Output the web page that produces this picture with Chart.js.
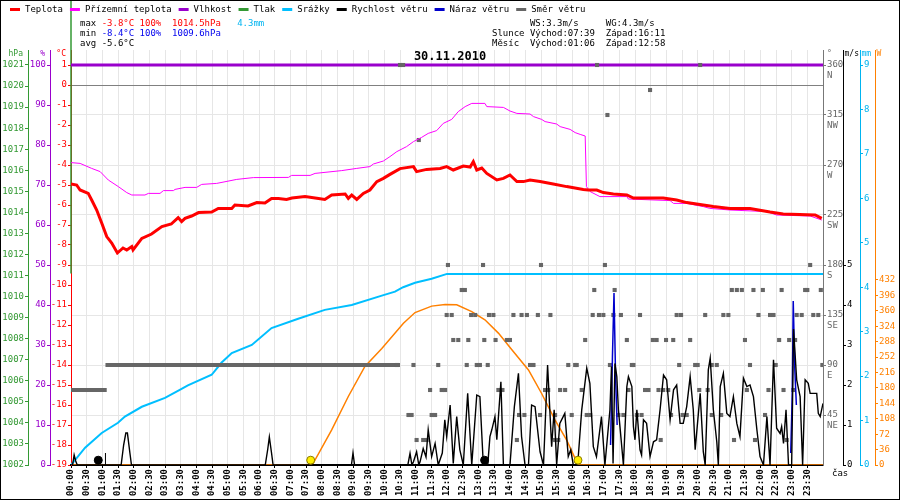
<!DOCTYPE html>
<html>
<head>
<meta charset="utf-8">
<script src="https://cdn.jsdelivr.net/npm/chart.js@4"></script>
<style>
html, body { margin: 0; padding: 0; background: #fff; }
#wrap { width: 900px; height: 500px; }
</style>
</head>
<body>
<div id="wrap"><canvas id="meteo" width="900" height="500"></canvas></div>
<script>
// tick labels / axes
const timeLabels = ["00:00","00:30","01:00","01:30","02:00","02:30","03:00","03:30","04:00","04:30","05:00","05:30",
  "06:00","06:30","07:00","07:30","08:00","08:30","09:00","09:30","10:00","10:30","11:00","11:30",
  "12:00","12:30","13:00","13:30","14:00","14:30","15:00","15:30","16:00","16:30","17:00","17:30",
  "18:00","18:30","19:00","19:30","20:00","20:30","21:00","21:30","22:00","22:30","23:00","23:30"];
const tempTicks = [1,0,-1,-2,-3,-4,-5,-6,-7,-8,-9,-10,-11,-12,-13,-14,-15,-16,-17,-18,-19];
const humTicks = [0,10,20,30,40,50,60,70,80,90,100];
const presTicks = [1002,1003,1004,1005,1006,1007,1008,1009,1010,1011,1012,1013,1014,1015,1016,1017,1018,1019,1020,1021];
const dirTicks = [45,90,135,180,225,270,315,360];
const dirNames = ["NE","E","SE","S","SW","W","NW","N"];
const windTicks = [0,1,2,3,4,5];
const rainTicks = [0,1,2,3,4,5,6,7,8,9];
const solarTicks = [0,36,72,108,144,180,216,252,288,324,360,396,432];

// series: [hour, value]
const tempC = [[0,-4.95],[0.18,-5.0],[0.29,-5.25],[0.55,-5.42],[0.66,-5.75],[0.82,-6.25],[0.98,-6.9],[1.14,-7.58],
  [1.3,-7.9],[1.48,-8.4],[1.66,-8.15],[1.78,-8.25],[1.94,-8.08],[1.98,-8.25],[2.26,-7.67],[2.57,-7.45],[2.9,-7.08],
  [3.2,-6.95],[3.42,-6.63],[3.53,-6.83],[3.64,-6.67],[3.85,-6.55],[4.07,-6.38],[4.49,-6.35],[4.7,-6.17],[5.13,-6.17],
  [5.23,-6.0],[5.65,-6.05],[5.93,-5.88],[6.19,-5.9],[6.4,-5.67],[6.62,-5.67],[6.88,-5.72],[7.05,-5.65],[7.47,-5.58],
  [7.9,-5.67],[8.1,-5.72],[8.32,-5.5],[8.75,-5.45],[8.85,-5.67],[8.96,-5.5],[9.12,-5.72],[9.33,-5.42],[9.54,-5.25],
  [9.76,-4.83],[9.97,-4.67],[10.18,-4.47],[10.5,-4.18],[10.93,-4.08],[11.03,-4.33],[11.35,-4.22],[11.78,-4.17],
  [11.99,-4.08],[12.2,-4.25],[12.52,-4.05],[12.74,-4.1],[12.84,-3.83],[12.95,-4.25],[13.11,-4.15],[13.27,-4.42],
  [13.59,-4.75],[13.8,-4.67],[14.01,-4.5],[14.23,-4.83],[14.44,-4.83],[14.65,-4.75],[14.97,-4.83],[15.39,-4.95],
  [15.82,-5.08],[16.35,-5.22],[16.51,-5.25],[16.78,-5.25],[16.99,-5.38],[17.31,-5.45],[17.74,-5.5],[17.95,-5.65],
  [18.9,-5.65],[19.33,-5.75],[19.65,-5.88],[20.18,-6.0],[20.5,-6.08],[21.03,-6.17],[21.67,-6.17],[22.31,-6.35],
  [22.73,-6.45],[23.75,-6.5],[23.96,-6.67]];
const groundC = [[0,-3.88],[0.29,-3.92],[0.66,-4.17],[0.93,-4.33],[1.19,-4.75],[1.51,-5.08],[1.78,-5.38],[1.94,-5.5],
  [2.36,-5.5],[2.47,-5.42],[2.84,-5.42],[2.95,-5.28],[3.27,-5.28],[3.32,-5.22],[3.64,-5.12],[4.01,-5.12],[4.17,-4.97],
  [4.65,-4.92],[5.29,-4.72],[5.82,-4.63],[6.94,-4.62],[7.04,-4.52],[7.63,-4.52],[7.79,-4.42],[8.64,-4.28],[9.12,-4.17],
  [9.54,-4.08],[9.65,-3.95],[9.97,-3.8],[10.18,-3.58],[10.4,-3.33],[10.71,-3.08],[10.93,-2.83],[11.19,-2.62],[11.4,-2.42],
  [11.67,-2.28],[11.88,-1.92],[12.15,-1.72],[12.36,-1.33],[12.58,-1.08],[12.79,-0.92],[13.21,-0.92],[13.27,-1.08],
  [13.8,-1.12],[14.01,-1.3],[14.23,-1.42],[14.65,-1.45],[14.76,-1.58],[15.02,-1.72],[15.13,-1.83],[15.5,-1.95],
  [15.61,-2.08],[15.93,-2.22],[16.09,-2.38],[16.25,-2.47],[16.41,-2.55],[16.45,-5.08],[16.57,-5.33],[16.88,-5.58],
  [17.74,-5.58],[17.79,-5.7],[19.12,-5.78],[19.23,-5.92],[19.65,-5.92],[20.18,-6.08],[20.39,-6.17],[21.03,-6.25],
  [22.21,-6.33],[22.52,-6.5],[23.59,-6.55],[23.96,-6.75]];
const humidity = [[0,100],[24,100]];
const pressure = [[0,1011.1],[0,1024.2]];
const rainMm = [[0,0],[0.45,0.39],[0.98,0.72],[1.5,0.95],[1.72,1.09],[2.26,1.31],[3.0,1.51],[3.5,1.7],[3.73,1.79],
  [4.49,2.03],[4.8,2.3],[5.13,2.52],[5.77,2.7],[6.4,3.08],[7.25,3.29],[8.1,3.49],[8.96,3.6],[9.92,3.81],[10.34,3.9],
  [10.6,4.0],[10.98,4.1],[11.51,4.19],[12.0,4.3],[24,4.3]];
const windMs = [[0,0],[0.05,0],[0.1,0.25],[0.15,0.1],[0.2,0],[1.6,0],[1.68,0.5],[1.75,0.8],[1.8,0.8],[1.88,0.3],[1.93,0],
  [6.2,0],[6.28,0.4],[6.33,0.7],[6.4,0.3],[6.45,0],[8.95,0],[9.0,0.3],[9.05,0],[10.75,0],[10.82,0.29],[10.88,0],
  [10.93,0.08],[11.03,0.33],[11.1,0],[11.14,0.08],[11.24,0.41],[11.33,0.2],[11.4,0.88],[11.51,0.21],[11.62,0.54],
  [11.72,0],[11.85,0.3],[11.93,1.13],[11.99,0.71],[12.1,1.5],[12.2,0.04],[12.31,1.21],[12.41,0.38],[12.52,0],
  [12.66,1.79],[12.79,0],[12.95,1.75],[13.05,1.71],[13.16,0],[13.3,0],[13.37,0.71],[13.43,0.88],[13.53,1.21],
  [13.59,0.63],[13.72,2.08],[13.8,0],[14.01,0],[14.15,1.46],[14.28,2.29],[14.38,0.71],[14.49,0],[14.6,0],[14.7,1.5],
  [14.81,1.46],[14.97,0.33],[15.08,0],[15.21,2.5],[15.34,0.46],[15.42,1.38],[15.5,0],[15.6,1.04],[15.76,1.29],
  [15.87,0.21],[15.95,0.38],[16.03,0],[16.17,0],[16.3,1.38],[16.46,2.42],[16.56,2.04],[16.67,0.46],[16.77,0.21],
  [16.93,1.21],[17.04,0],[17.2,1.38],[17.25,2.46],[17.3,0.04],[17.36,2.54],[17.42,2.21],[17.47,1.38],[17.52,0.96],
  [17.63,0],[17.74,1.96],[17.79,2.21],[17.9,1.96],[17.95,0.96],[18.0,0.63],[18.06,1.38],[18.16,0.38],[18.21,0.25],
  [18.27,1.13],[18.37,1.04],[18.48,0.21],[18.59,0.58],[18.69,0.63],[18.8,1.38],[18.91,2.25],[19.01,2.13],[19.12,1.13],
  [19.23,1.88],[19.33,2.0],[19.44,1.04],[19.54,1.04],[19.65,1.46],[19.76,2.21],[19.86,1.38],[19.92,0.38],[20.08,1.79],
  [20.18,0.33],[20.24,0],[20.34,2.38],[20.4,2.67],[20.5,1.38],[20.61,0.58],[20.66,0],[20.72,1.96],[20.82,2.29],
  [20.93,1.29],[21.03,1.21],[21.14,1.71],[21.25,1.04],[21.35,0.71],[21.46,2.17],[21.57,1.96],[21.67,2.0],[21.78,1.71],
  [21.89,0.88],[21.99,0.21],[22.1,0],[22.21,1.21],[22.31,0],[22.42,2.63],[22.52,0.92],[22.63,0.79],[22.68,0.96],
  [22.74,0.54],[22.82,1.38],[22.9,0],[23.0,0],[23.06,3.4],[23.16,2.13],[23.27,1.71],[23.35,0],[23.43,2.13],[23.53,2.04],
  [23.59,1.79],[23.8,1.79],[23.85,1.29],[23.91,1.21],[24.0,1.54]];
const gustMs = [[17.22,0.5],[17.28,2.7],[17.33,4.3],[17.38,2.2],[17.43,1.0],[17.5,null],
  [22.97,0.3],[23.02,1.8],[23.05,4.1],[23.1,2.4],[23.15,1.5]];
const windDir = [[10.5,360],[10.6,360],[16.79,360],[20.08,360],[18.48,337.5],[17.12,315],[11.1,292.5],
  [12.03,180],[13.15,180],[15.0,180],[17.04,180],[23.59,180],
  [12.47,157.5],[12.57,157.5],[16.7,157.5],[17.35,157.5],[21.09,157.5],[21.25,157.5],[21.41,157.5],[21.78,157.5],
  [22.08,157.5],[22.68,157.5],[23.43,157.5],[23.5,157.5],[23.93,157.5],
  [11.99,135],[12.15,135],[12.77,135],[12.9,135],[13.34,135],[13.48,135],[14.12,135],[14.38,135],[14.55,135],[14.9,135],
  [15.3,135],[16.65,135],[16.85,135],[16.99,135],[17.31,135],[17.55,135],[18.16,135],[19.33,135],[19.47,135],[20.24,135],
  [20.82,135],[20.98,135],[21.94,135],[22.31,135],[22.42,135],[23.16,135],[23.32,135],[23.69,135],[23.85,135],
  [12.2,112.5],[12.36,112.5],[12.68,112.5],[13.19,112.5],[13.55,112.5],[13.91,112.5],[14.01,112.5],[16.41,112.5],
  [17.74,112.5],[18.57,112.5],[18.69,112.5],[18.99,112.5],[19.22,112.5],[19.76,112.5],[21.51,112.5],[22.6,112.5],
  [22.92,112.5],[23.11,112.5],
  [10.4,90],[10.93,90],[11.72,90],[12.63,90],[12.95,90],[13.05,90],[13.3,90],[14.65,90],[14.76,90],[15.87,90],[16.09,90],
  [16.14,90],[17.2,90],[17.9,90],[17.95,90],[19.41,90],[19.92,90],[20.0,90],[20.45,90],[20.61,90],[21.67,90],[22.49,90],
  [23.98,90],
  [11.46,67.5],[11.83,67.5],[11.94,67.5],[13.64,67.5],[13.77,67.5],[15.13,67.5],[15.23,67.5],[15.61,67.5],[15.77,67.5],
  [16.3,67.5],[17.79,67.5],[18.32,67.5],[18.43,67.5],[18.75,67.5],[18.9,67.5],[19.06,67.5],[20.05,67.5],[20.32,67.5],
  [21.57,67.5],[22.26,67.5],[22.74,67.5],[23.05,67.5],
  [10.77,45],[10.87,45],[11.51,45],[11.62,45],[14.3,45],[14.47,45],[14.97,45],[15.45,45],[15.98,45],[16.46,45],[16.57,45],
  [17.47,45],[17.63,45],[18.06,45],[18.21,45],[19.15,45],[19.52,45],[19.65,45],[20.45,45],[20.75,45],[22.15,45],
  [11.03,22.5],[11.24,22.5],[11.35,22.5],[14.23,22.5],[15.45,22.5],[15.55,22.5],[18.82,22.5],[21.16,22.5],[21.83,22.5],
  [22.84,22.5]];
const windDirSteady = [[0,67.5],[1.14,67.5],[1.12,null],[1.1,90],[10.5,90]];
const solarW = [[0,0],[7.65,0],[7.73,4],[8.32,82],[8.85,160],[9.38,230],[9.92,272],[10.61,331],[10.98,356],[11.51,371],
  [11.94,375],[12.31,374],[12.79,358],[13.21,339],[13.64,308],[14.07,269],[14.6,222],[15.02,167],[15.45,105],
  [15.82,58],[16.04,23],[16.19,0],[24,0]];
const sunMarks = [[7.65,0.12],[16.18,0.12]];
const moonMarks = [[0.87,0.12],[13.2,0.12]];
const moonRiseArrow = [[1.1,0],[1.1,0.3]];

const statRows = [
  [["max ", "#000"], ["-3.8°C 100%  1014.5hPa", "#ff0000"], ["   4.3mm", "#00b4f0"]],
  [["min ", "#000"], ["-8.4°C 100%  1009.6hPa", "#0000ee"]],
  [["avg -5.6°C", "#000"]]
];
const astroRows = [
  "       WS:3.3m/s     WG:4.3m/s",
  "Slunce Východ:07:39  Západ:16:11",
  "Měsíc  Východ:01:06  Západ:12:58"
];
const dateTitle = "30.11.2010";
const units = { yP: ["hPa", "#339933"], yH: ["%", "#9900cc"], yT: ["°C", "#ff0000"],
  yD: ["°", "#666666"], yW: ["m/s", "#000000"], yR: ["mm", "#00b4f0"], yS: ["W", "#ff8000"] };

const MONO = "'DejaVu Sans Mono', monospace";
Chart.defaults.font.family = MONO;
Chart.defaults.font.size = 9;

const xy = pairs => pairs.map(p => ({ x: p[0], y: p[1] }));
const tickHours = timeLabels.map(s => +s.slice(0, 2) + (+s.slice(3)) / 60);
const setTicks = vals => scale => { scale.ticks = vals.map(v => ({ value: v })); };

function sideAxis(pos, weight, min, max, ticks, color, width, extra) {
  return Object.assign({
    position: pos, weight: weight, min: min, max: max,
    afterBuildTicks: setTicks(ticks),
    afterFit: s => { s.width = width; },
    border: { color: color, width: 1 },
    grid: { drawOnChartArea: false, tickLength: 3, tickColor: color },
    ticks: { color: color, padding: 1, font: { size: 9 }, callback: v => String(v) }
  }, extra || {});
}

const headerPlugin = {
  id: 'header',
  afterDraw(chart) {
    const ctx = chart.ctx;
    ctx.save();
    ctx.font = "9px " + MONO;
    ctx.textBaseline = 'middle';
    ctx.textAlign = 'left';
    // legend row
    let x = 10;
    chart.data.datasets.forEach(ds => {
      if (ds.noLegend) return;
      ctx.fillStyle = ds.borderColor;
      ctx.fillRect(x, 8, 10, 3);
      ctx.fillStyle = '#000';
      ctx.fillText(ds.label, x + 15, 10);
      x += 15 + ctx.measureText(ds.label).width + 7;
    });
    // statistics
    statRows.forEach((row, i) => {
      let sx = 80;
      row.forEach(seg => {
        ctx.fillStyle = seg[1];
        ctx.fillText(seg[0], sx, 24 + i * 10);
        sx += ctx.measureText(seg[0]).width;
      });
    });
    ctx.fillStyle = '#000';
    astroRows.forEach((row, i) => ctx.fillText(row, 492, 24 + i * 10));
    // unit labels on axes
    ctx.font = "8px " + MONO;
    Object.keys(units).forEach(id => {
      const s = chart.scales[id];
      ctx.fillStyle = units[id][1];
      if (s.position === 'left') {
        ctx.textAlign = 'right';
        ctx.fillText(units[id][0], s.right - 5, 54);
      } else {
        ctx.textAlign = 'left';
        ctx.fillText(units[id][0], s.left + (id === 'yD' ? 4 : 1.5), 54);
      }
    });
    ctx.font = "9px " + MONO;
    ctx.textAlign = 'left';
    ctx.fillStyle = '#000';
    ctx.fillText("čas", chart.scales.yD.left + 9, 474);
    // date title
    ctx.font = "bold 12px " + MONO;
    ctx.textAlign = 'center';
    ctx.fillText(dateTitle, 450, 57);
    // frame
    ctx.strokeStyle = '#000';
    ctx.lineWidth = 1;
    ctx.strokeRect(0.5, 0.5, 899, 499);
    ctx.restore();
  }
};

const lineBase = { pointRadius: 0, tension: 0, fill: false, spanGaps: false };

new Chart(document.getElementById('meteo'), {
  type: 'line',
  data: {
    datasets: [
      Object.assign({ label: 'Teplota', data: xy(tempC), borderColor: '#ff0000', borderWidth: 3, yAxisID: 'yT', order: 1 }, lineBase),
      Object.assign({ label: 'Přízemní teplota', data: xy(groundC), borderColor: '#ff00ff', borderWidth: 1, yAxisID: 'yT', order: 2 }, lineBase),
      Object.assign({ label: 'Vlhkost', data: xy(humidity), borderColor: '#9900cc', borderWidth: 3, yAxisID: 'yH', order: 9 }, lineBase),
      Object.assign({ label: 'Tlak', data: xy(pressure), borderColor: '#339933', borderWidth: 1.5, yAxisID: 'yP', order: 10, clip: false }, lineBase),
      Object.assign({ label: 'Srážky', data: xy(rainMm), borderColor: '#00bfff', borderWidth: 2, yAxisID: 'yR', order: 7 }, lineBase),
      Object.assign({ label: 'Rychlost větru', data: xy(windMs), borderColor: '#000000', borderWidth: 1.4, yAxisID: 'yW', order: 3 }, lineBase),
      Object.assign({ label: 'Náraz větru', data: xy(gustMs), borderColor: '#0000cc', borderWidth: 1.5, yAxisID: 'yW', order: 4 }, lineBase),
      { label: 'Směr větru', data: xy(windDir), borderColor: '#666666', backgroundColor: '#666666', showLine: false,
        pointStyle: 'rect', pointRadius: 2.9, pointBorderWidth: 0, yAxisID: 'yD', order: 5 },
      Object.assign({ label: 'Směr větru (stálý)', noLegend: true, data: xy(windDirSteady), borderColor: '#666666', borderWidth: 4,
        borderCapStyle: 'butt', yAxisID: 'yD', order: 6 }, lineBase),
      Object.assign({ label: 'Sluneční záření', noLegend: true, data: xy(solarW), borderColor: '#ff8000', borderWidth: 1.5, yAxisID: 'yS', order: 8 }, lineBase),
      { label: 'Slunce', noLegend: true, data: xy(sunMarks), showLine: false, pointRadius: 4, backgroundColor: '#ffee00',
        borderColor: '#8a7a00', pointBorderWidth: 1, yAxisID: 'yW', order: 0, clip: false },
      { label: 'Měsíc', noLegend: true, data: xy(moonMarks), showLine: false, pointRadius: 4, backgroundColor: '#000',
        borderColor: '#000', pointBorderWidth: 1, yAxisID: 'yW', order: 0, clip: false },
      Object.assign({ label: 'Východ Měsíce', noLegend: true, data: xy(moonRiseArrow), borderColor: '#000', borderWidth: 1,
        yAxisID: 'yW', order: 0 }, lineBase)
    ]
  },
  options: {
    responsive: false,
    animation: false,
    devicePixelRatio: 1,
    layout: { padding: { top: 50, left: 0, right: 0, bottom: 0 } },
    plugins: { legend: { display: false }, tooltip: { enabled: false } },
    scales: {
      x: {
        type: 'linear', position: 'bottom', min: 0, max: 24,
        afterBuildTicks: setTicks(tickHours),
        afterFit: s => { s.height = 35; },
        border: { color: '#000', width: 2 },
        grid: { color: '#e6e6e6', tickColor: '#000', tickLength: 3 },
        ticks: { autoSkip: false, minRotation: 90, maxRotation: 90, padding: 1, color: '#000',
          font: { size: 9, weight: 'bold' },
          callback: v => timeLabels[Math.round(v * 2)] }
      },
      yT: sideAxis('left', 0, -19, 1.75, tempTicks, '#ff0000', 21, {
        grid: { drawOnChartArea: true, tickLength: 3, tickColor: '#ff0000',
          color: c => (c.tick && c.tick.value === 0) ? '#808080' : 'rgba(0,0,0,0)' }
      }),
      yH: sideAxis('left', 1, 0, 103.75, humTicks, '#9900cc', 22),
      yP: sideAxis('left', 2, 1002, 1021.7125, presTicks, '#339933', 28),
      yD: sideAxis('right', 0, 0, 373.5, dirTicks, '#777777', 20, {
        grid: { drawOnChartArea: true, color: '#e6e6e6', tickLength: 3, tickColor: '#777777' },
        ticks: { color: '#666666', padding: 1, labelOffset: 5, font: { size: 9 },
          callback: v => [String(v), dirNames[dirTicks.indexOf(v)]] }
      }),
      yW: sideAxis('right', 1, 0, 10.375, windTicks, '#000000', 17),
      yR: sideAxis('right', 2, 0, 9.3375, rainTicks, '#00b4f0', 15),
      yS: sideAxis('right', 3, 0, 969, solarTicks, '#ff8000', 25)
    }
  },
  plugins: [headerPlugin]
});
</script>
</body>
</html>
